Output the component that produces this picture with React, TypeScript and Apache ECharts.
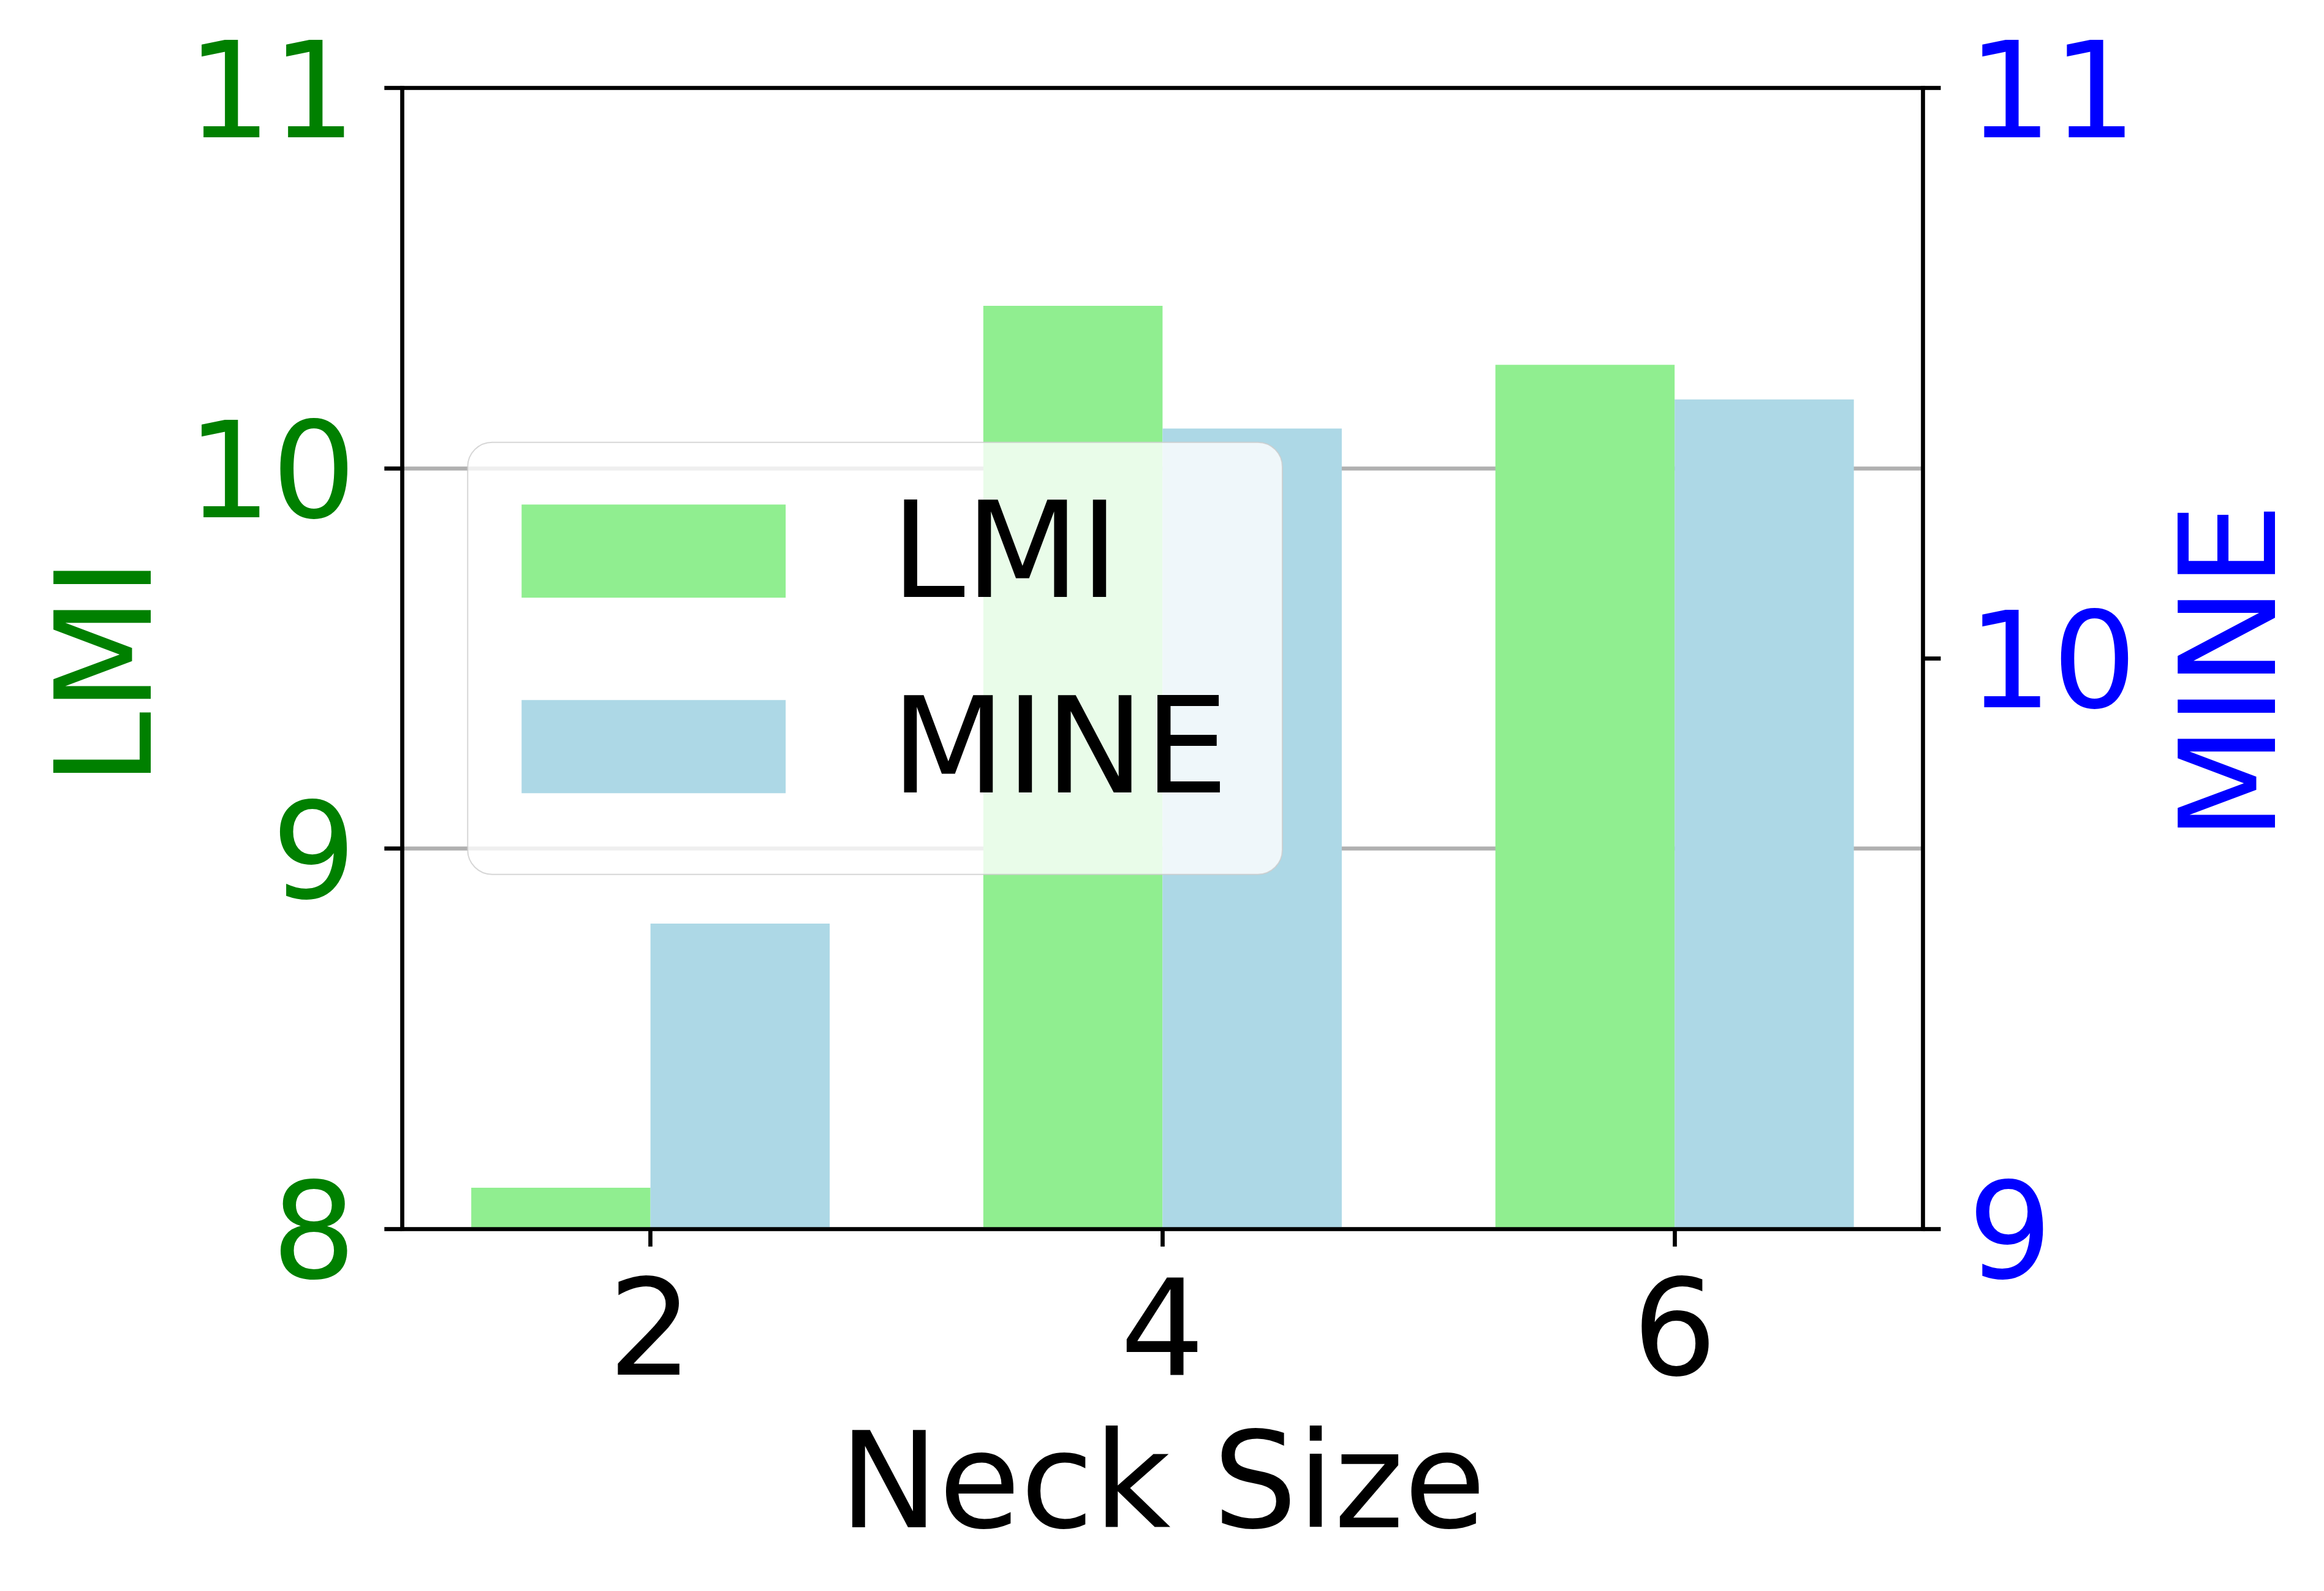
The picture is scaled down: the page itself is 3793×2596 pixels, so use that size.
import React, { useEffect, useRef } from "react";
import * as echarts from "echarts";

// ---- data ----
const NECK_SIZES = [2, 4, 6];
const LMI_VALUES = [8.108, 10.427, 10.272];
const MINE_VALUES = [9.535, 10.403, 10.454];
const LMI_TICKS = { min: 8, max: 11, interval: 1 };
const MINE_TICKS = { min: 9, max: 11, interval: 1 };
const X_TICKS = [2, 4, 6];
const BAR_UNITS = 0.7; // bar width in x units (matplotlib width)
const X_MARGIN_RATIO = 0.05;

const FONT = "DejaVu Sans";
const FS = 217;
const GREEN = "#008000";
const BLUE = "#0000ff";
const LMI_COLOR = "#90ee90";
const MINE_COLOR = "#add8e6";

const W = 3793;
const H = 2596;
const GRID = { left: 656.3, right: W - 3138.5, top: 143.5, bottom: H - 2005 };
const LINE_W = 6.7;

export default function App() {
  const ref = useRef<HTMLDivElement>(null);
  useEffect(() => {
    if (!ref.current) return;
    const chart = echarts.init(ref.current, undefined, { renderer: "svg" });

    const dataMin = Math.min(...NECK_SIZES) - BAR_UNITS;
    const dataMax = Math.max(...NECK_SIZES) + BAR_UNITS;
    const span = dataMax - dataMin;
    const xMin = dataMin - span * X_MARGIN_RATIO;
    const xMax = dataMax + span * X_MARGIN_RATIO;
    const gridWidth = W - GRID.left - GRID.right;
    const barPx = (gridWidth * BAR_UNITS) / (xMax - xMin);

    const spine = { show: true, lineStyle: { color: "#000", width: LINE_W, cap: "square" as const } };
    const tick = { show: true, length: 29, lineStyle: { color: "#000", width: LINE_W } };
    const yLabel = (color: string, margin: number) => ({
      color,
      fontSize: FS,
      fontFamily: FONT,
      margin,
      showMinLabel: true,
      showMaxLabel: true,
      formatter: "{v|{value}}",
      rich: {
        v: { color, fontSize: FS, fontFamily: FONT, lineHeight: FS, padding: [10, 0, 0, 0] },
      },
    });

    chart.setOption({
      animation: false,
      backgroundColor: "#ffffff",
      grid: { ...GRID, containLabel: false, outerBoundsMode: "none" },
      xAxis: [
        {
          type: "value",
          min: xMin,
          max: xMax,
          position: "bottom",
          z: 10,
          axisLine: spine,
          axisTick: { ...tick, customValues: X_TICKS },
          axisLabel: {
            customValues: X_TICKS,
            color: "#000",
            fontSize: FS,
            fontFamily: FONT,
            lineHeight: FS,
            margin: 54,
          },
          splitLine: { show: false },
          name: "Neck Size",
          nameLocation: "middle",
          nameGap: 303,
          nameTextStyle: { color: "#000", fontSize: FS, fontFamily: FONT, lineHeight: FS },
        },
        {
          type: "value",
          min: xMin,
          max: xMax,
          position: "top",
          z: 10,
          axisLine: spine,
          axisTick: { show: false },
          axisLabel: { show: false },
          splitLine: { show: false },
        },
      ],
      yAxis: [
        {
          type: "value",
          position: "left",
          ...LMI_TICKS,
          axisLine: spine,
          axisTick: tick,
          axisLabel: yLabel(GREEN, 75),
          splitLine: { show: true, lineStyle: { color: "#b0b0b0", width: LINE_W } },
          name: "LMI",
          nameLocation: "middle",
          nameGap: 377,
          nameTextStyle: { color: GREEN, fontSize: FS, fontFamily: FONT, lineHeight: FS, padding: [0, 44, 0, 0] },
        },
        {
          type: "value",
          position: "right",
          ...MINE_TICKS,
          axisLine: spine,
          axisTick: tick,
          axisLabel: yLabel(BLUE, 73),
          splitLine: { show: false },
          name: "MINE",
          nameLocation: "middle",
          nameGap: 391,
          nameTextStyle: { color: BLUE, fontSize: FS, fontFamily: FONT, lineHeight: FS, padding: [0, 44, 0, 0] },
        },
      ],
      legend: {
        orient: "vertical",
        left: 763.3,
        top: 721.7,
        padding: [69, 88, 100, 88],
        itemWidth: 431,
        itemHeight: 152,
        itemGap: 102,
        icon: "rect",
        selectedMode: false,
        backgroundColor: "rgba(255,255,255,0.8)",
        borderColor: "rgba(204,204,204,0.8)",
        borderWidth: 2,
        borderRadius: 40,
        textStyle: {
          color: "#000",
          fontSize: FS,
          fontFamily: FONT,
          lineHeight: 152,
          padding: [0, 0, 0, 167],
        },
        data: ["LMI", "MINE"],
      },
      series: [
        {
          type: "bar",
          name: "LMI",
          xAxisIndex: 0,
          yAxisIndex: 0,
          data: NECK_SIZES.map((x, i) => [x - BAR_UNITS / 2, LMI_VALUES[i]]),
          barWidth: barPx,
          barGap: "-100%",
          itemStyle: { color: LMI_COLOR },
        },
        {
          type: "bar",
          name: "MINE",
          xAxisIndex: 0,
          yAxisIndex: 1,
          data: NECK_SIZES.map((x, i) => [x + BAR_UNITS / 2, MINE_VALUES[i]]),
          barWidth: barPx,
          barGap: "-100%",
          itemStyle: { color: MINE_COLOR },
        },
      ],
    });
    return () => chart.dispose();
  }, []);
  return (
    <div
      ref={ref}
      style={{ position: "absolute", left: 0, top: 0, width: W, height: H, background: "#fff" }}
    />
  );
}
